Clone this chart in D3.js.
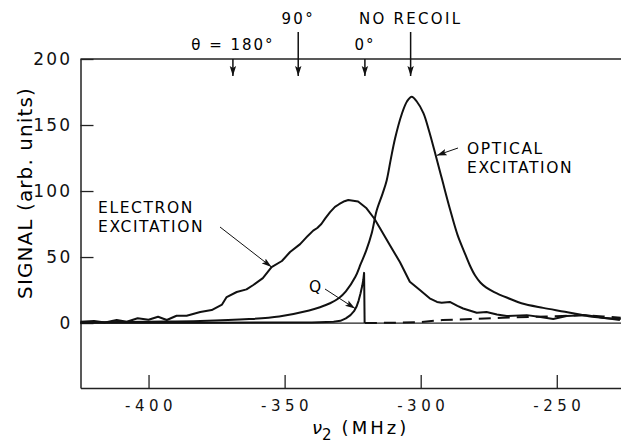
<!doctype html>
<html>
<head>
<meta charset="utf-8">
<script src="https://cdn.jsdelivr.net/npm/d3@7"></script>
<style>
  body { margin: 0; background: #fff; }
  svg { display: block; font-family: "DejaVu Sans", sans-serif; }
  .curve { fill: none; stroke: #111; stroke-width: 2; stroke-linejoin: round; }
  .tick text { fill: #111; }
</style>
</head>
<body>
<svg width="621" height="445"></svg>
<script>
// ---- data: [nu2 (MHz), signal] ----
var optical = [[-425,0.5],[-400,1],[-381,1.5],[-363,3],[-352,5],[-341,9.5],[-337,12],[-333.3,15],
  [-330,19],[-327.5,24],[-324,35],[-322,45],[-320,55],[-318,68],[-316.2,85],[-314,98],[-312.5,108],
  [-311,124],[-309.4,140],[-307,158],[-305,168],[-303.3,171.5],[-301.5,168],[-299,159],[-297,146],
  [-295,131],[-292.3,110],[-289.2,86],[-286.5,67],[-284,54],[-282,44],[-280,36],[-278,30.5],[-276,27],
  [-273,23.5],[-268,19],[-263,15],[-255,11.5],[-247,8.6],[-237,4.8],[-226.5,3]];

var electron = [[-425,1],[-420,1.5],[-416,0.5],[-411.7,2.3],[-408,1],[-404,3.6],[-400,2.5],[-396.5,4.8],
  [-393.3,2.3],[-389.7,5.5],[-386,5.5],[-381,8.3],[-376.8,9.8],[-373,14],[-371.3,19.7],[-367.6,23.5],
  [-364,25.5],[-361.5,28.8],[-358,34],[-354.8,42.4],[-351,47],[-348,53.8],[-344.3,59.8],[-341.5,66],
  [-339.5,70],[-338,72],[-336.5,75],[-335,79.5],[-333.3,84],[-331.5,88],[-330,90],[-328,92.3],
  [-326.6,93.2],[-323,92],[-319.9,86.9],[-317,79],[-315,72],[-311.3,59],[-307.6,46],[-304,31.3],
  [-300.3,25],[-296.7,18.7],[-294,16],[-292.3,15.4],[-289.3,16],[-286.5,13],[-284.4,11],[-279.4,7.8],
  [-275.8,8.3],[-272,6.5],[-268.4,5.3],[-261,6],[-256,4.5],[-251.3,3],[-246.4,5.3],[-239,6],
  [-233,4],[-226.8,2.3]];

var quench = [[-425,0.3],[-380,0.3],[-340,0.5],[-332,1],[-329.5,1.7],[-327.5,3.5],[-325.8,6],
  [-324.5,9],[-323.6,12.3],[-322.8,17],[-322.1,22.5],[-321.5,28],[-321.1,32.6],[-320.8,38],[-320.6,0]];

var dashed = [[-320.5,0],[-310,0.2],[-300,0.8],[-292,2.3],[-280,3.2],[-270,4],[-258,4.8],
  [-248,5.3],[-240,6],[-233,5],[-226.5,4]];

var xTicks = [-400, -350, -300, -250];
var yTicks = [0, 50, 100, 150, 200];

// recoil markers along the top
var markFreq  = [-369, -345, -320.5, -303.7];
var markLabel = ["θ = 180°", "90°", "0°", "NO RECOIL"];
var markHigh  = [false, true, false, true];

// ---- scales ----
var svg = d3.select("svg");
var x = d3.scaleLinear().domain([-425, -226.4]).range([80.5, 621]);
var y = d3.scaleLinear().domain([-49.2, 200]).range([388, 59]);

var defs = svg.append("defs");
defs.append("marker").attr("id", "head")
  .attr("markerUnits", "userSpaceOnUse")
  .attr("viewBox", "0 -4 10 8")
  .attr("markerWidth", 10).attr("markerHeight", 8)
  .attr("refX", 10).attr("refY", 0)
  .attr("orient", "auto")
  .append("path").attr("d", "M0,-3.2L10,0L0,3.2L2,0Z").attr("fill", "#111");

// ---- frame ----
svg.append("line").attr("x1", x(-425)).attr("x2", 621)
  .attr("y1", y(200)).attr("y2", y(200)).attr("stroke", "#222").attr("stroke-width", 1.3);
svg.append("line").attr("x1", x(-425)).attr("x2", 621)
  .attr("y1", y(0)).attr("y2", y(0)).attr("stroke", "#222").attr("stroke-width", 1.3);

var xAxis = svg.append("g").attr("transform", "translate(0," + y(-49.2) + ")")
  .call(d3.axisBottom(x).tickValues(xTicks).tickSize(-13).tickSizeOuter(0).tickPadding(12)
    .tickFormat(d => "-" + Math.abs(d)));
xAxis.select(".domain").attr("stroke", "#222").attr("stroke-width", 1.5);
xAxis.selectAll(".tick line").attr("stroke", "#222").attr("stroke-width", 1.3);
xAxis.selectAll(".tick text").attr("font-size", 15).attr("font-family", "DejaVu Sans")
  .style("letter-spacing", "4.5px").attr("dx", "2");

var yAxis = svg.append("g").attr("transform", "translate(" + x(-425) + ",0)")
  .call(d3.axisLeft(y).tickValues(yTicks).tickSize(-13).tickSizeOuter(0).tickPadding(8));
yAxis.select(".domain").attr("stroke", "#222").attr("stroke-width", 1.5);
yAxis.selectAll(".tick line").attr("stroke", "#222").attr("stroke-width", 1.3);
yAxis.selectAll(".tick text").attr("font-size", 17).attr("font-family", "DejaVu Sans")
  .style("letter-spacing", "2.3px");

// axis titles
svg.append("text")
  .attr("transform", "translate(32,193) rotate(-90)")
  .attr("text-anchor", "middle").attr("font-size", 20)
  .style("letter-spacing", "1.1px")
  .text("SIGNAL (arb. units)");

var xt = svg.append("text").attr("x", 312).attr("y", 434).attr("font-size", 18);
xt.append("tspan").attr("font-style", "italic").text("ν");
xt.append("tspan").attr("dy", 6).attr("font-size", 15).text("2");
xt.append("tspan").attr("dy", -6).attr("dx", 10).style("letter-spacing", "3px").text("(MHz)");

// ---- curves ----
var line = d3.line().x(d => x(d[0])).y(d => y(d[1]));

svg.append("path").datum(quench).attr("class", "curve")
  .attr("stroke-width", 2.4).attr("d", line);
svg.append("path").datum(dashed).attr("class", "curve")
  .attr("stroke-width", 1.8).attr("stroke-dasharray", "12,7").attr("d", line);
svg.append("path").datum(electron).attr("class", "curve")
  .attr("d", line.curve(d3.curveLinear));
svg.append("path").datum(optical).attr("class", "curve")
  .attr("d", d3.line().x(d => x(d[0])).y(d => y(d[1])).curve(d3.curveCatmullRom));

// ---- recoil markers ----
markFreq.forEach(function(f, i) {
  var top = markHigh[i] ? 32 : y(200);
  svg.append("line").attr("x1", x(f)).attr("x2", x(f))
    .attr("y1", top).attr("y2", 76)
    .attr("stroke", "#111").attr("stroke-width", 1.5)
    .attr("marker-end", "url(#head)");
  svg.append("text").attr("x", x(f)).attr("y", markHigh[i] ? 24 : 50)
    .attr("text-anchor", "middle").attr("font-size", 15)
    .style("letter-spacing", markHigh[i] ? "2.3px" : "2px")
    .text(markLabel[i]);
});

// ---- curve labels ----
function label(lines, tx, ty, from, tip) {
  var t = svg.append("text").attr("font-size", 15.5).style("letter-spacing", "1.6px");
  lines.forEach(function(s, i) {
    t.append("tspan").attr("x", tx).attr("y", ty + i * 18.5).text(s);
  });
  svg.append("line").attr("x1", from[0]).attr("y1", from[1])
    .attr("x2", x(tip[0])).attr("y2", y(tip[1]))
    .attr("stroke", "#111").attr("stroke-width", 1)
    .attr("marker-end", "url(#head)");
}
label(["ELECTRON", "EXCITATION"], 98, 213, [220, 227], [-354.8, 42.4]);
label(["OPTICAL", "EXCITATION"], 467, 154, [458, 148], [-294.1, 127]);
label(["Q"], 309, 292, [325, 289], [-324.1, 11]);
</script>
</body>
</html>
